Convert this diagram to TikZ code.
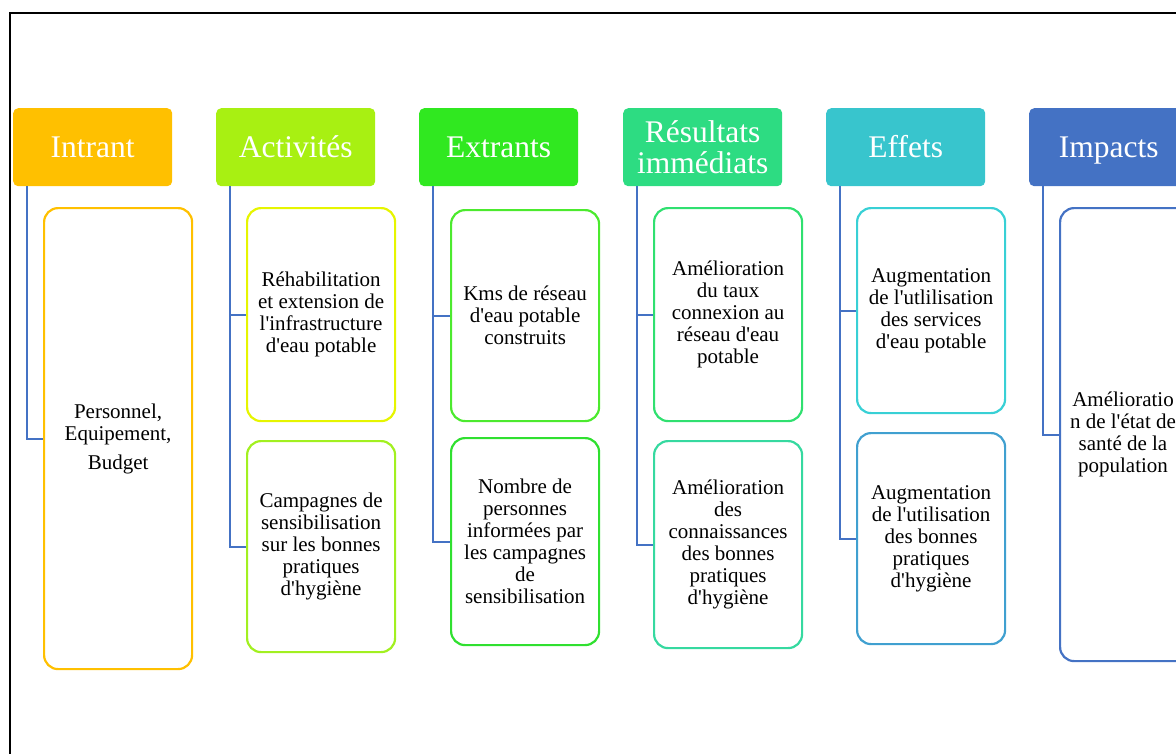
\documentclass[tikz,border=0pt]{standalone}
\usepackage{fontspec}
\setmainfont{Liberation Serif}[Ligatures=TeXOff]
\definecolor{cIn}{HTML}{FFC000}
\definecolor{cAc}{HTML}{A8F012}
\definecolor{cAcA}{HTML}{E6F500}
\definecolor{cAcB}{HTML}{A2F020}
\definecolor{cEx}{HTML}{30E820}
\definecolor{cExA}{HTML}{4CEA2E}
\definecolor{cExB}{HTML}{30E030}
\definecolor{cRe}{HTML}{2DDC82}
\definecolor{cReA}{HTML}{30E070}
\definecolor{cReB}{HTML}{36D9A0}
\definecolor{cEf}{HTML}{38C5CD}
\definecolor{cEfA}{HTML}{38D0D5}
\definecolor{cEfB}{HTML}{40A0D0}
\definecolor{cIm}{HTML}{4472C4}
\tikzset{
  hdr/.style={anchor=north west, minimum width=159pt, minimum height=78pt, inner sep=0pt,
    rounded corners=5pt, text=white, align=center, font=\fontsize{31.5}{31}\selectfont},
  child/.style={anchor=north west, minimum width=148pt, inner sep=0pt, draw, line width=2.2pt,
    rounded corners=14pt, align=center, text=black, font=\fontsize{21}{22}\selectfont},
  conn/.style={draw=cIm, line width=2pt},
  frameline/.style={draw=black, line width=2pt}
}
\begin{document}
\begin{tikzpicture}[x=1pt,y=-1pt]
\useasboundingbox (0,0) rectangle (1176,753);
\clip (0,0) rectangle (1176,753);
\draw[frameline] (10,770) -- (10,13) -- (1200,13);
% headers
\node[hdr, fill=cIn] (h1) at (13,108) {\smash{Intrant}\vphantom{I}};
\node[hdr, fill=cAc] (h2) at (216,108) {\smash{Activités}\vphantom{I}};
\node[hdr, fill=cEx] (h3) at (419,108) {\smash{Extrants}\vphantom{I}};
\node[hdr, fill=cRe] (h4) at (623,108) {Résultats\\immédiats};
\node[hdr, fill=cEf] (h5) at (826,108) {\smash{Effets}\vphantom{I}};
\node[hdr, fill=cIm] (h6) at (1029,108) {\smash{Impacts}\vphantom{I}};
% children
\node[child, draw=cIn, minimum height=461pt] (a1) at (43,207) {Personnel,\\Equipement,\\[7pt]Budget};
\node[child, draw=cAcA, minimum height=213pt] (b1) at (246,207) {Réhabilitation\\et extension de\\l'infrastructure\\d'eau potable};
\node[child, draw=cAcB, minimum height=211pt] (b2) at (246,440) {Campagnes de\\sensibilisation\\sur les bonnes\\pratiques\\d'hygiène};
\node[child, draw=cExA, minimum height=211pt] (c1) at (450,209) {Kms de réseau\\d'eau potable\\construits};
\node[child, draw=cExB, minimum height=207pt] (c2) at (450,437) {Nombre de\\personnes\\informées par\\les campagnes\\de\\sensibilisation};
\node[child, draw=cReA, minimum height=213pt] (d1) at (653,207) {Amélioration\\du taux\\connexion au\\réseau d'eau\\potable};
\node[child, draw=cReB, minimum height=207pt] (d2) at (653,440) {Amélioration\\des\\connaissances\\des bonnes\\pratiques\\d'hygiène};
\node[child, draw=cEfA, minimum height=205pt] (e1) at (856,207) {Augmentation\\de l'utlilisation\\des services\\d'eau potable};
\node[child, draw=cEfB, minimum height=211pt] (e2) at (856,432) {Augmentation\\de l'utilisation\\des bonnes\\pratiques\\d'hygiène};
\node[child, draw=cIm, minimum height=453pt] (f1) at (1059,207) {};
\node[align=center, inner sep=0pt, font=\fontsize{21}{22}\selectfont] (f1t) at (1123,434) {Amélioratio\\n de l'état de\\santé de la\\population};
% connectors
\draw[conn] ([xshift=14pt]h1.south west) |- (a1.west);
\draw[conn] ([xshift=14pt]h2.south west) |- (b1.west);
\draw[conn] ([xshift=14pt]h2.south west) |- (b2.west);
\draw[conn] ([xshift=14pt]h3.south west) |- (c1.west);
\draw[conn] ([xshift=14pt]h3.south west) |- (c2.west);
\draw[conn] ([xshift=14pt]h4.south west) |- (d1.west);
\draw[conn] ([xshift=14pt]h4.south west) |- (d2.west);
\draw[conn] ([xshift=14pt]h5.south west) |- (e1.west);
\draw[conn] ([xshift=14pt]h5.south west) |- (e2.west);
\draw[conn] ([xshift=14pt]h6.south west) |- (f1.west);
\end{tikzpicture}
\end{document}
